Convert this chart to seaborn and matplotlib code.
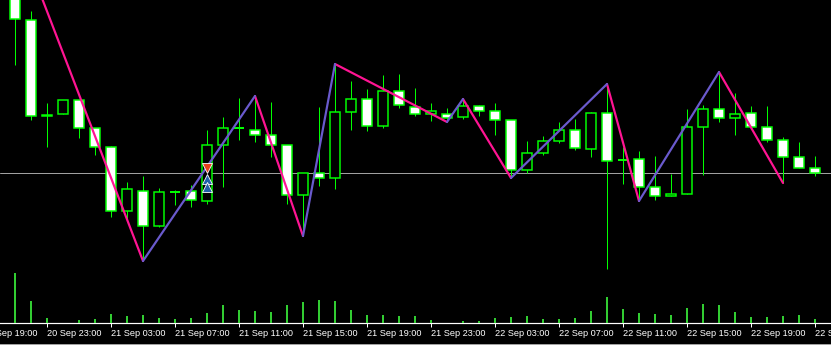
import numpy as np
import pandas as pd
import matplotlib
matplotlib.use("Agg")
import matplotlib.pyplot as plt
import seaborn as sns

# ---- data (price points) ----
opens  = [460, 380, 285, 286, 300, 272, 253, 189, 209, 174, 208, 209, 199, 255, 272, 270, 265,
          255, 205, 227, 222, 288, 301, 274, 309, 293, 286, 286, 283, 294, 289, 280, 230, 247,
          259, 270, 251, 287, 240, 241, 213, 204, 206, 273, 291, 282, 287, 273, 260, 243, 232]
highs  = [472, 389, 297, 300, 300, 272, 254, 218, 224, 212, 210, 215, 270, 283, 302, 304, 298,
          255, 227, 293, 336, 319, 311, 325, 326, 312, 297, 292, 301, 295, 297, 280, 259, 264,
          278, 281, 288, 316, 253, 249, 244, 226, 291, 295, 328, 307, 294, 294, 263, 258, 244]
lows   = [335, 280, 253, 286, 262, 245, 183, 181, 139, 173, 195, 193, 196, 213, 260, 258, 243,
          196, 164, 214, 211, 270, 269, 272, 292, 284, 279, 278, 281, 284, 265, 222, 227, 245,
          257, 250, 243, 131, 216, 199, 200, 204, 206, 225, 278, 265, 273, 258, 217, 232, 224]
closes = [381, 284, 284, 300, 272, 253, 189, 211, 174, 208, 208, 200, 255, 272, 272, 265, 255,
          205, 227, 222, 288, 301, 274, 309, 295, 286, 289, 282, 294, 289, 280, 230, 247, 259,
          270, 252, 287, 239, 240, 213, 204, 206, 273, 291, 282, 286, 273, 260, 243, 232, 227]
volumes = [2000, 880, 200, 0, 120, 160, 360, 280, 320, 200, 160, 200, 400, 720, 520, 480, 440,
           720, 840, 920, 880, 520, 320, 320, 280, 280, 120, 0, 80, 80, 200, 240, 280, 160,
           160, 200, 480, 1040, 560, 400, 360, 320, 600, 760, 720, 440, 240, 240, 280, 320, 160]

zz_index = [0, 8, 15, 18, 20, 27, 28, 31, 37, 39, 44, 48]
zz_price = [472, 139, 304, 164, 336, 278, 301, 222, 316, 199, 328, 217]

bid_price = 226.7
trade_down = (12, 232)
trade_up = [(12, 221), (12, 213)]

tick_pos = [-2, 2, 6, 10, 14, 18, 22, 26, 30, 34, 38, 42, 46, 50]
tick_labels = ["20 Sep 19:00", "20 Sep 23:00", "21 Sep 03:00", "21 Sep 07:00", "21 Sep 11:00",
               "21 Sep 15:00", "21 Sep 19:00", "21 Sep 23:00", "22 Sep 03:00", "22 Sep 07:00",
               "22 Sep 11:00", "22 Sep 15:00", "22 Sep 19:00", "22 Sep 23:00"]

# ---- figure ----
sns.set_style("dark")
plt.rcParams['font.family'] = ['Liberation Sans', 'DejaVu Sans']
W, H = 831, 345
fig = plt.figure(figsize=(W / 100, H / 100), dpi=100, facecolor="black")
ax = fig.add_axes([0, 22 / H, 1, 323 / H])
ax.set_facecolor("black")
ax.set_xlim(-15 / 16, (W - 15) / 16)
ax.set_ylim(400 - 323, 400)

px = 0.72  # one pixel in points
LIME = "#00ff00"

o = np.array(opens); c = np.array(closes); h = np.array(highs); l = np.array(lows)
idx = np.arange(len(o))

# bid line
ax.axhline(bid_price, color="#a0a0a0", lw=1 * px, zorder=1)

# wicks
ax.vlines(idx, l, h, color=LIME, lw=1 * px, zorder=2)
# bodies
body = o != c
bear = c < o
fills = np.where(bear, "white", "black")
bw = 0.67
ax.bar(idx[body], np.abs(c - o)[body], bottom=np.minimum(o, c)[body], width=bw,
       color=fills[body], edgecolor=LIME, linewidth=1.5 * px, zorder=3)
doji = ~body
ax.hlines(o[doji], idx[doji] - bw / 2, idx[doji] + bw / 2, color=LIME, lw=2 * px, zorder=3)

# zigzag
segs = []
for k in range(len(zz_index) - 1):
    d = "up" if zz_price[k + 1] > zz_price[k] else "down"
    segs.append({"x": zz_index[k], "y": zz_price[k], "seg": k, "dir": d})
    segs.append({"x": zz_index[k + 1], "y": zz_price[k + 1], "seg": k, "dir": d})
zz = pd.DataFrame(segs)
sns.lineplot(data=zz, x="x", y="y", units="seg", hue="dir", estimator=None, sort=False,
             palette={"up": "#6a5acd", "down": "#ff1493"}, lw=2.2 * px, legend=False,
             ax=ax, zorder=5)

# trade arrows
ax.plot([trade_down[0]], [trade_down[1]], marker="v", ms=7, color="#e8401c",
        mec="white", mew=0.6, ls="none", zorder=6)
ax.plot([p[0] for p in trade_up], [p[1] for p in trade_up], marker="^", ms=7,
        color="#1f5fa8", mec="white", mew=0.6, ls="none", zorder=6)

# volumes
ax2 = ax.twinx()
ax2.set_ylim(0, 323 * 40)
ax2.bar(idx, volumes, width=2 / 16, color="#32cd32", linewidth=0, zorder=1)
ax2.set_yticks([])
for s in ax2.spines.values():
    s.set_visible(False)

# axes styling
for name, s in ax.spines.items():
    s.set_visible(name == "bottom")
ax.spines["bottom"].set_color("white")
ax.spines["bottom"].set_linewidth(1.2 * px)
ax.grid(False)
ax.set_yticks([])
ax.set_xlabel(""); ax.set_ylabel("")
FS = 6.6
vis = [(p, t) for p, t in zip(tick_pos, tick_labels) if p >= ax.get_xlim()[0]]
ax.set_xticks([p for p, _ in vis])
ax.set_xticklabels([t for _, t in vis], fontsize=FS, color="white", ha="left")
ax.tick_params(axis="x", colors="white", length=4 * px, width=1 * px, direction="out",
               pad=1.5, bottom=True)
for p, t in zip(tick_pos, tick_labels):
    if p < ax.get_xlim()[0]:
        ax.annotate(t, xy=(p, 0), xycoords=("data", "axes fraction"), xytext=(0, -4.4),
                    textcoords="offset points", ha="left", va="top", fontsize=FS,
                    color="white", annotation_clip=False)

# bottom border strip
fig.add_artist(plt.Line2D([0, 1], [0.5 / H, 0.5 / H], transform=fig.transFigure,
                          color="#d8d8d8", lw=1.5 * px))

fig.savefig("out.png", dpi=100, facecolor="black")
